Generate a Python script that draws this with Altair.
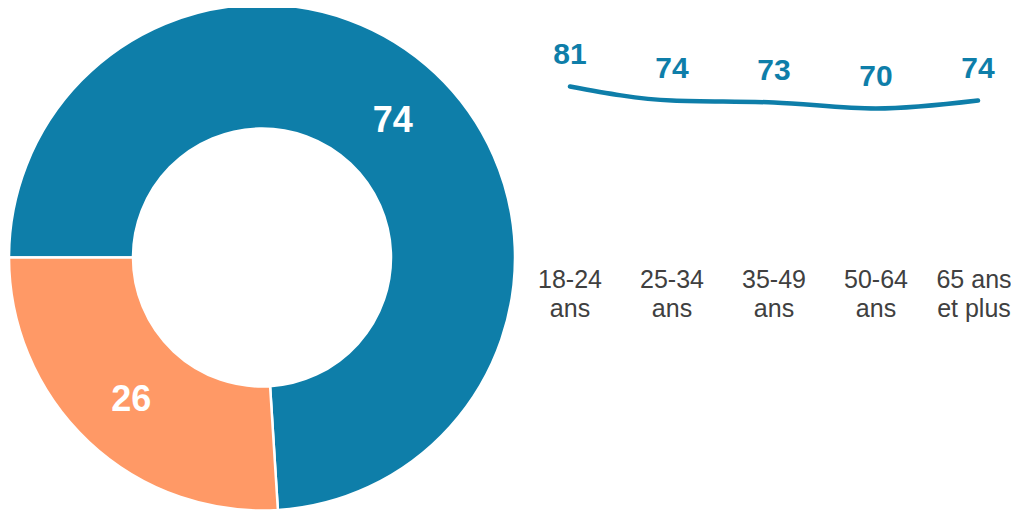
import altair as alt
import pandas as pd
import math

# Donut data
donut_labels = ["Oui", "Non"]
donut_values = [74, 26]
donut_order = [1, 2]
donut_colors = ["#0e7ea9", "#ff9966"]

# Line data
age_groups = ["18-24 ans", "25-34 ans", "35-49 ans", "50-64 ans", "65 ans et plus"]
age_labels = ["18-24\nans", "25-34\nans", "35-49\nans", "50-64\nans", "65 ans\net plus"]
age_values = [81, 74, 73, 70, 74]

donut_df = pd.DataFrame({"cat": donut_labels, "value": donut_values, "order": donut_order})
line_df = pd.DataFrame({"age": age_groups, "label": age_labels, "value": age_values})

FONT = "Liberation Sans"
BLUE = donut_colors[0]
CX, CY = 254, 249.5
start = 3 * math.pi / 2

theta = alt.Theta("value:Q", stack=True,
                  scale=alt.Scale(domain=[0, 100], range=[start, start + 2 * math.pi]))

arcs = alt.Chart(donut_df).mark_arc(
    outerRadius=253, innerRadius=129, stroke="white", strokeWidth=2.5
).encode(
    theta=theta,
    color=alt.Color("cat:N", scale=alt.Scale(domain=donut_labels, range=donut_colors), legend=None),
    order=alt.Order("order:Q"),
    x=alt.value(CX), y=alt.value(CY),
)

arc_text = alt.Chart(donut_df).mark_text(
    radius=191, font=FONT, fontSize=36, fontWeight="bold", color="white",
    align="center", baseline="middle", dy=3
).encode(
    theta=theta,
    order=alt.Order("order:Q"),
    text=alt.Text("value:Q"),
    x=alt.value(CX), y=alt.value(CY),
)

xs = alt.X("age:N", sort=age_groups,
           scale=alt.Scale(type="point", domain=age_groups, range=[562, 970], padding=0),
           axis=None)
ys = alt.Y("value:Q", scale=alt.Scale(domain=[70, 81], range=[100.5, 78.5], zero=False), axis=None)

line = alt.Chart(line_df).mark_line(
    interpolate="monotone", color=BLUE, strokeWidth=4.5, strokeCap="round"
).encode(x=xs, y=ys)

val_text = alt.Chart(line_df).mark_text(
    font=FONT, fontSize=30, fontWeight="bold", color=BLUE, dy=-23, baseline="alphabetic"
).encode(x=xs, y=ys, text=alt.Text("value:Q"))

text_style = dict(font=FONT, fontSize=25, color="#404040", baseline="alphabetic",
                  lineBreak="\n", lineHeight=29)

age_text = alt.Chart(line_df).transform_filter(
    alt.datum.age != age_groups[-1]
).mark_text(**text_style).encode(x=xs, y=alt.value(280), text="label:N")

age_text_last = alt.Chart(line_df).transform_filter(
    alt.datum.age == age_groups[-1]
).mark_text(dx=-4, **text_style).encode(x=xs, y=alt.value(280), text="label:N")

chart = alt.layer(arcs, arc_text, line, val_text, age_text, age_text_last).properties(
    width=1003, height=504, padding=0, autosize=alt.AutoSizeParams(type="none")
).configure_view(stroke=None)

chart.save("out.html", embed_options={"renderer": "svg", "actions": False})
